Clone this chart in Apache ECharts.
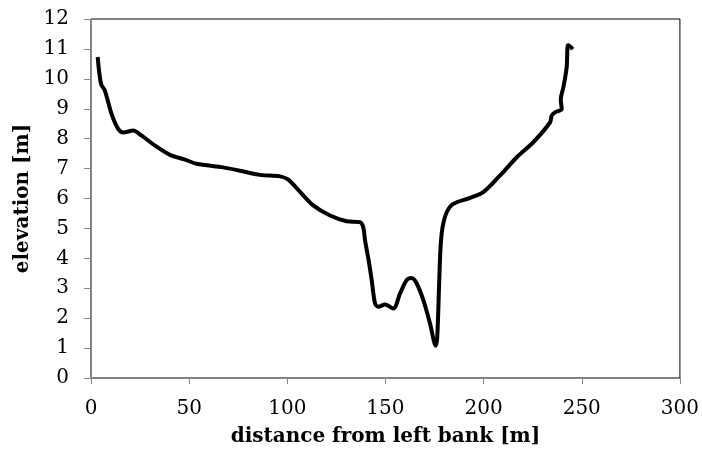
<!DOCTYPE html>
<html>
<head>
<meta charset="utf-8">
<script src="https://cdn.jsdelivr.net/npm/echarts@6/dist/echarts.min.js"></script>
<style>
html,body{margin:0;padding:0;background:#fff;}
#chart{width:702px;height:455px;}
</style>
</head>
<body>
<div id="chart"></div>
<script>
const distance = [3.4,5.1,7.1,10.5,13.9,16.5,21.5,25.8,32.6,40.2,47.9,53.8,67.4,75.9,86.1,96.3,100.5,106.5,113.2,121.8,130.2,137,138.7,139.6,141.3,143,144.7,146.4,149.8,154,157.4,160.8,163.3,165.9,169.3,172.7,175.6,176.4,177.4,178.1,179.1,181.2,184.6,193.1,199.8,208.4,216.9,225.3,233.8,234.7,236.4,239.8,239.3,240.6,242.3,242.7,243.1,245.4];
const elevation = [10.73,9.83,9.6,8.82,8.32,8.21,8.27,8.1,7.77,7.46,7.3,7.16,7.04,6.93,6.79,6.74,6.63,6.22,5.77,5.43,5.24,5.21,5.04,4.6,3.99,3.27,2.49,2.38,2.46,2.32,2.82,3.27,3.34,3.16,2.6,1.82,1.08,1.38,3.27,4.4,5.04,5.54,5.82,6.02,6.21,6.77,7.38,7.88,8.54,8.77,8.88,8.99,9.32,9.71,10.38,11.04,11.12,10.99];
const xTitle = 'distance from left bank [m]';
const yTitle = 'elevation [m]';

const points = distance.map((d, i) => [d, elevation[i]]);
const font = 'DejaVu Serif';
const chart = echarts.init(document.getElementById('chart'), null, {renderer: 'canvas'});
chart.setOption({
  animation: false,
  backgroundColor: '#fff',
  grid: {left: 91, right: 22, top: 19, bottom: 77, show: true, borderColor: '#000', borderWidth: 1},
  xAxis: {
    type: 'value', min: 0, max: 300, interval: 50,
    name: xTitle, nameLocation: 'middle', nameGap: 49,
    nameTextStyle: {fontFamily: font, fontWeight: 'bold', fontSize: 20, color: '#000'},
    axisLine: {show: true, onZero: false, lineStyle: {color: '#868686', width: 1}},
    axisTick: {show: true, inside: false, length: 6, lineStyle: {color: '#868686'}},
    axisLabel: {fontFamily: font, fontSize: 20, color: '#000', margin: 21},
    splitLine: {show: false}
  },
  yAxis: {
    type: 'value', min: 0, max: 12, interval: 1,
    name: yTitle, nameLocation: 'middle', nameGap: 53, nameRotate: 90,
    nameTextStyle: {fontFamily: font, fontWeight: 'bold', fontSize: 20, color: '#000'},
    axisLine: {show: true, onZero: false, lineStyle: {color: '#868686', width: 1}},
    axisTick: {show: true, inside: false, length: 7, lineStyle: {color: '#868686'}},
    axisLabel: {fontFamily: font, fontSize: 20, color: '#000', margin: 22},
    splitLine: {show: false}
  },
  series: [{
    type: 'line',
    data: points,
    smooth: 0.3,
    showSymbol: false,
    lineStyle: {color: '#000', width: 4},
    itemStyle: {color: '#000'}
  }]
});
</script>
</body>
</html>
